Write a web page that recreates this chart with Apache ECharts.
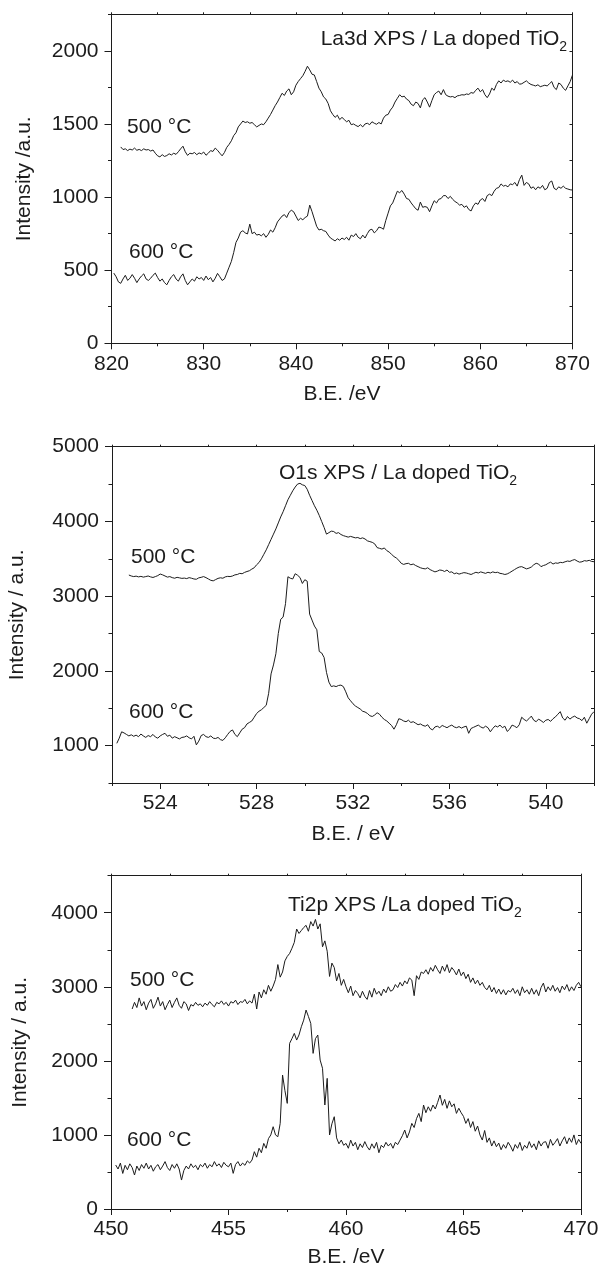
<!DOCTYPE html>
<html>
<head>
<meta charset="utf-8">
<script src="https://cdn.jsdelivr.net/npm/echarts@6/dist/echarts.min.js"></script>
<style>
html,body{margin:0;padding:0;background:#fff;}
#c{width:602px;height:1270px;}
</style>
</head>
<body>
<div id="c"></div>
<script>
// ================= DATA =================
// La3d panel (binding energy grid: start + i*step, eV)
const laStep = 0.25;
const la500Start = 821.0;
const la500 = [
1343,1325,1330,1318, 1328,1322,1335,1320, 1326,1318,1330,1322, 1325,1315,1322,1300,
1282,1275,1290,1278, 1284,1296,1288,1300, 1292,1310,1330,1348, 1310,1285,1300,1296,
1305,1290,1302,1295, 1308,1286,1300,1318, 1312,1335,1320,1300, 1282,1305,1340,1360,
1385,1420,1440,1480, 1500,1520,1510,1515, 1505,1510,1495,1480, 1490,1500,1495,1515,
1540,1565,1595,1625, 1650,1680,1710,1695, 1725,1740,1700,1720, 1765,1790,1810,1830,
1860,1895,1870,1840, 1835,1790,1745,1720, 1685,1670,1640,1590, 1565,1545,1560,1530,
1545,1530,1515,1525, 1495,1500,1490,1482, 1495,1480,1500,1505, 1495,1515,1505,1498,
1510,1500,1540,1560, 1565,1595,1615,1650, 1675,1700,1685,1690, 1670,1660,1635,1625,
1650,1640,1610,1665, 1680,1650,1615,1660, 1700,1715,1725,1700, 1735,1700,1690,1685,
1688,1680,1692,1695, 1700,1698,1705,1702, 1715,1710,1730,1745, 1720,1735,1700,1680,
1705,1745,1730,1770, 1795,1780,1800,1790, 1795,1785,1800,1780, 1790,1772,1775,1785,
1795,1780,1770,1765, 1760,1768,1755,1760, 1765,1760,1775,1790, 1750,1735,1780,1770,
1745,1730,1760,1790, 1835
];
const la600Start = 820.25;
const la600 = [
480,455,420,410, 440,465,430,445, 470,445,415,440, 460,475,440,430,
445,465,480,450, 425,440,415,400, 430,455,470,440, 425,455,475,430,
400,420,440,425, 455,440,450,430, 460,435,450,420, 445,478,455,430,
440,480,520,560, 620,690,720,760, 770,755,748,815, 750,760,740,745,
735,750,725,745, 775,760,790,830, 850,870,880,860, 895,910,900,870,
840,855,845,860, 870,945,900,850, 800,775,780,770, 765,740,720,710,
700,715,705,720, 710,725,705,740, 730,750,725,715, 740,720,750,775,
780,755,770,795, 790,780,840,890, 940,960,1000,1040, 1030,1045,1020,990,
985,960,940,920, 910,966,930,935, 930,900,940,975, 960,985,990,1010,
1010,990,1005,985, 970,960,945,950, 930,940,915,905, 940,960,950,980,
990,970,1010,1020, 1010,1040,1060,1065, 1090,1075,1080,1070, 1090,1085,1100,1075,
1120,1150,1080,1100, 1090,1060,1070,1050, 1070,1060,1080,1050, 1060,1100,1110,1060,
1050,1070,1060,1075, 1060,1055,1050,1048
];

// O1s panel
const oStep = 0.1;
const o500Start = 522.7;
const o500 = [
3283,3270,3262,
3268,3258,3265,3255,3262,3270,3258,3250,3262,3275,
3296,3285,3270,3255,3262,3248,3240,3252,3245,3238,
3242,3235,3248,3240,3230,3226,3245,3252,3262,3248,
3230,3212,3205,3222,3238,3246,3240,3258,3265,3262,
3270,3285,3290,3305,3300,3318,3330,3340,3362,3380,
3420,3450,3500,3560,3620,3690,3760,3830,3900,3980,
4060,4130,4210,4290,4350,4410,4460,4500,4510,4490,
4480,4430,4350,4280,4210,4150,4080,4000,3920,3830,
3850,3870,3865,3840,3850,3825,3810,3800,3790,3800,
3790,3780,3785,3770,3780,3765,3740,3730,3720,3700,
3650,3640,3630,3645,3610,3590,3560,3530,3510,3480,
3440,3425,3435,3440,3420,3430,3410,3395,3380,3370,
3365,3380,3355,3340,3325,3335,3350,3345,3330,3350,
3320,3325,3300,3310,3295,3305,3315,3310,3300,3290,
3305,3320,3310,3325,3315,3305,3320,3310,3325,3315,
3320,3305,3300,3290,3298,3315,3335,3355,3375,3390,
3395,3380,3365,3375,3390,3420,3440,3430,3395,3410,
3420,3440,3455,3430,3445,3440,3452,3448,3460,3470,
3465,3480,3490,3470,3455,3460,3475,3470,3480,3465,
3461
];
const o600Start = 522.2;
const o600 = [
1031,1100,1185,1170,1150,1130,1145,1125,
1140,1120,1155,1130,1110,1135,1120,1150,1115,1100,
1130,1150,1165,1125,1140,1100,1120,1105,1090,1110,
1115,1130,1105,1090,1125,1010,1060,1135,1150,1120,
1110,1130,1100,1095,1110,1080,1070,1105,1150,1190,
1210,1150,1120,1170,1220,1240,1290,1310,1330,1380,
1430,1460,1480,1510,1540,1700,1960,2080,2230,2500,
2690,2720,2900,3260,3240,3230,3300,3280,3250,3170,
3220,3200,2760,2680,2600,2550,2260,2240,2180,1980,
1850,1790,1800,1790,1805,1810,1790,1720,1640,1600,
1560,1530,1510,1490,1460,1450,1430,1400,1390,1410,
1440,1420,1380,1350,1330,1300,1270,1220,1280,1360,
1350,1330,1320,1340,1310,1320,1300,1280,1290,1270,
1260,1280,1230,1210,1250,1260,1240,1270,1255,1240,
1260,1275,1250,1240,1255,1235,1250,1260,1165,1230,
1245,1260,1275,1250,1235,1260,1240,1185,1230,1265,
1250,1275,1240,1260,1190,1220,1275,1260,1240,1280,
1380,1350,1330,1360,1395,1340,1320,1355,1335,1310,
1340,1350,1325,1360,1385,1420,1455,1370,1340,1390,
1355,1380,1395,1370,1360,1335,1380,1300,1360,1420,
1455
];

// Ti2p panel
const tiStep = 0.1;
const ti500Start = 450.9;
const ti500 = [
2700,
2790,2720,2850,2740,2800,2690,2780,2830,2710,2770,
2860,2740,2800,2690,2760,2820,2720,2790,2850,2750,
2710,2800,2770,2680,2760,2740,2790,2750,2770,2730,
2780,2750,2800,2760,2730,2790,2770,2810,2760,2790,
2740,2800,2780,2820,2760,2800,2790,2830,2770,2810,
2780,2900,2700,2930,2850,2960,2900,3020,2940,3010,
3100,3300,3130,3200,3350,3410,3450,3520,3600,3780,
3720,3760,3800,3830,3750,3880,3820,3910,3780,3850,
3540,3620,3480,3140,3320,3260,3080,3180,3020,3100,
3000,2920,3010,2880,2950,2910,2850,2940,2870,2830,
2950,2860,2980,2900,2940,2880,2970,2920,3000,2940,
2960,3030,2990,3060,3010,3080,3040,3120,3090,2880,
3150,3100,3200,3180,3230,3170,3260,3210,3290,3230,
3180,3280,3210,3300,3190,3260,3220,3160,3240,3150,
3200,3110,3170,3060,3120,3040,3090,3020,3060,2990,
2960,3020,2930,2990,2910,2970,2900,2960,2890,2950,
2930,2980,2910,2960,2880,3000,2920,2960,2900,2980,
2900,2960,2880,2990,3050,2930,3000,2950,3020,2940,
2990,2920,3010,2960,3030,2940,3000,2950,3020,3060,
3000
];
const ti600Start = 450.2;
const ti600 = [
594,540,620,480,590,530,610,560,
459,580,520,600,550,620,540,590,510,570,
600,530,580,640,560,520,600,550,610,540,
391,520,580,540,610,560,590,530,600,570,
620,550,600,570,640,580,610,560,630,590,
570,620,481,600,640,580,620,590,650,620,
661,774,700,820,760,886,820,950,1000,1111,
1000,976,1156,1809,1600,1426,2236,2300,2371,2281,
2350,2461,2550,2686,2600,2506,2101,2300,2349,2011,
1900,1404,1764,999,1150,1246,960,880,931,860,
886,820,930,850,900,800,880,830,910,841,
796,880,820,900,760,860,830,900,850,886,
820,900,870,930,990,1066,960,1040,1156,1100,
1220,1291,1180,1404,1300,1380,1320,1404,1350,1440,
1539,1400,1480,1359,1460,1380,1420,1291,1360,1300,
1250,1156,1220,1100,1180,1050,1120,1000,931,1060,
900,960,850,920,841,890,800,870,820,900,
850,780,870,819,900,790,860,820,910,830,
880,800,920,850,900,909,820,940,860,900,
950,850,920,976,880,960,900,1000,870,940,
886
];

// Tick labels
const laXTicks = [820, 830, 840, 850, 860, 870];
const laYTicks = [0, 500, 1000, 1500, 2000];
const oXTicks = [524, 528, 532, 536, 540];
const oYTicks = [1000, 2000, 3000, 4000, 5000];
const tiXTicks = [450, 455, 460, 465, 470];
const tiYTicks = [0, 1000, 2000, 3000, 4000];

// Texts
const panelTitles = ['La3d XPS / La doped TiO', 'O1s XPS / La doped TiO', 'Ti2p XPS /La doped TiO'];
const tempLabels = ['500 °C', '600 °C'];
const xNames = ['B.E. /eV', 'B.E. / eV', 'B.E. /eV'];
const yNames = ['Intensity /a.u.', 'Intensity / a.u.', 'Intensity / a.u.'];

// ================= CHART =================
const FONT = '"Liberation Sans", Arial, Helvetica, sans-serif';
const INK = '#1c1c1c';
const FS = 21;

function pairs(start, step, vals) {
  return vals.map((v, i) => [Math.round((start + i * step) * 1000) / 1000, v]);
}
function isTick(list, v) { return list.some(t => Math.abs(t - v) < 1e-6); }

const layout = [
  { left: 111.5, right: 29.5, top: 14.3, height: 329, xGap: 40, yGap: 77,
    title: { x: 567, y: 39, align: 'right' }, t500: [127, 127], t600: [129, 252] },
  { left: 112, right: 8, top: 446.7, height: 336.3, xGap: 41, yGap: 84,
    title: { x: 279, y: 473, align: 'left' }, t500: [131, 557], t600: [129, 712] },
  { left: 111, right: 21, top: 875.7, height: 333.3, xGap: 38, yGap: 80,
    title: { x: 288, y: 905, align: 'left' }, t500: [130, 980], t600: [127, 1140] }
];

const panels = [
  { x: [820, 870, 5, laXTicks], y: [0, 2250, 250, laYTicks],
    data: [pairs(la500Start, laStep, la500), pairs(la600Start, laStep, la600)] },
  { x: [522, 542, 2, oXTicks], y: [500, 5000, 500, oYTicks],
    data: [pairs(o500Start, oStep, o500), pairs(o600Start, oStep, o600)] },
  { x: [450, 470, 2.5, tiXTicks], y: [0, 4500, 500, tiYTicks],
    data: [pairs(ti500Start, tiStep, ti500), pairs(ti600Start, tiStep, ti600)] }
];

const grids = [], xAxes = [], yAxes = [], series = [], graphics = [];
const lineStyle = { color: INK, width: 1 };
const lbl = { color: INK, fontSize: FS, fontFamily: FONT };

panels.forEach((p, k) => {
  const L = layout[k];
  grids.push({ left: L.left, right: L.right, top: L.top, height: L.height,
    containLabel: false, outerBoundsMode: 'none' });
  const [xmin, xmax, xstep, xt] = p.x;
  const [ymin, ymax, ystep, yt] = p.y;

  // bottom main x axis (minor ticks + labels)
  xAxes.push({ type: 'value', gridIndex: k, position: 'bottom', min: xmin, max: xmax, interval: xstep,
    axisLine: { show: true, onZero: false, lineStyle },
    axisTick: { show: true, inside: false, length: 3, lineStyle },
    axisLabel: { ...lbl, margin: 10, formatter: v => isTick(xt, v) ? String(v) : '' },
    splitLine: { show: false },
    name: xNames[k], nameLocation: 'middle', nameGap: L.xGap, nameTextStyle: { ...lbl } });
  // bottom overlay: major ticks
  xAxes.push({ type: 'value', gridIndex: k, position: 'bottom', min: xmin, max: xmax, interval: xstep,
    axisLine: { show: false, onZero: false },
    axisTick: { show: true, inside: false, length: 6, lineStyle, customValues: xt },
    axisLabel: { show: false }, splitLine: { show: false } });
  // top mirror
  xAxes.push({ type: 'value', gridIndex: k, position: 'top', min: xmin, max: xmax, interval: xstep,
    axisLine: { show: true, onZero: false, lineStyle },
    axisTick: { show: true, inside: false, length: 2, lineStyle },
    axisLabel: { show: false }, splitLine: { show: false } });

  // left main y axis
  yAxes.push({ type: 'value', gridIndex: k, position: 'left', min: ymin, max: ymax, interval: ystep,
    axisLine: { show: true, onZero: false, lineStyle },
    axisTick: { show: true, inside: false, length: 3.5, lineStyle },
    axisLabel: { ...lbl, margin: 13, formatter: v => isTick(yt, v) ? String(v) : '' },
    splitLine: { show: false },
    name: yNames[k], nameLocation: 'middle', nameGap: L.yGap, nameTextStyle: { ...lbl } });
  // left overlay: major ticks
  yAxes.push({ type: 'value', gridIndex: k, position: 'left', min: ymin, max: ymax, interval: ystep,
    axisLine: { show: false, onZero: false },
    axisTick: { show: true, inside: false, length: 7, lineStyle, customValues: yt },
    axisLabel: { show: false }, splitLine: { show: false } });
  // right mirror
  yAxes.push({ type: 'value', gridIndex: k, position: 'right', min: ymin, max: ymax, interval: ystep,
    axisLine: { show: true, onZero: false, lineStyle },
    axisTick: { show: true, inside: true, length: 3, lineStyle },
    axisLabel: { show: false }, splitLine: { show: false } });

  p.data.forEach(d => {
    series.push({ type: 'line', xAxisIndex: 3 * k, yAxisIndex: 3 * k, data: d,
      symbol: 'none', showSymbol: false, lineStyle: { color: INK, width: 1 },
      emphasis: { disabled: true }, silent: true, z: 3 });
  });

  // panel title with subscript 2
  graphics.push({ type: 'text', x: L.title.x, y: L.title.y, z: 10,
    style: { text: '{a|' + panelTitles[k] + '}{s|2}', align: L.title.align, verticalAlign: 'middle',
      fill: INK,
      rich: {
        a: { fontSize: FS, fontFamily: FONT, fill: INK, lineHeight: 30, verticalAlign: 'middle' },
        s: { fontSize: 14, fontFamily: FONT, fill: INK, lineHeight: 14, verticalAlign: 'bottom' }
      } } });
  graphics.push({ type: 'text', x: L.t500[0], y: L.t500[1], z: 10,
    style: { text: tempLabels[0], fontSize: FS, fontFamily: FONT, fill: INK, align: 'left', verticalAlign: 'middle' } });
  graphics.push({ type: 'text', x: L.t600[0], y: L.t600[1], z: 10,
    style: { text: tempLabels[1], fontSize: FS, fontFamily: FONT, fill: INK, align: 'left', verticalAlign: 'middle' } });
});

const chart = echarts.init(document.getElementById('c'), null, { renderer: 'canvas' });
chart.setOption({
  animation: false,
  backgroundColor: '#ffffff',
  textStyle: { fontFamily: FONT },
  grid: grids,
  xAxis: xAxes,
  yAxis: yAxes,
  series: series,
  graphic: graphics
});
</script>
</body>
</html>
